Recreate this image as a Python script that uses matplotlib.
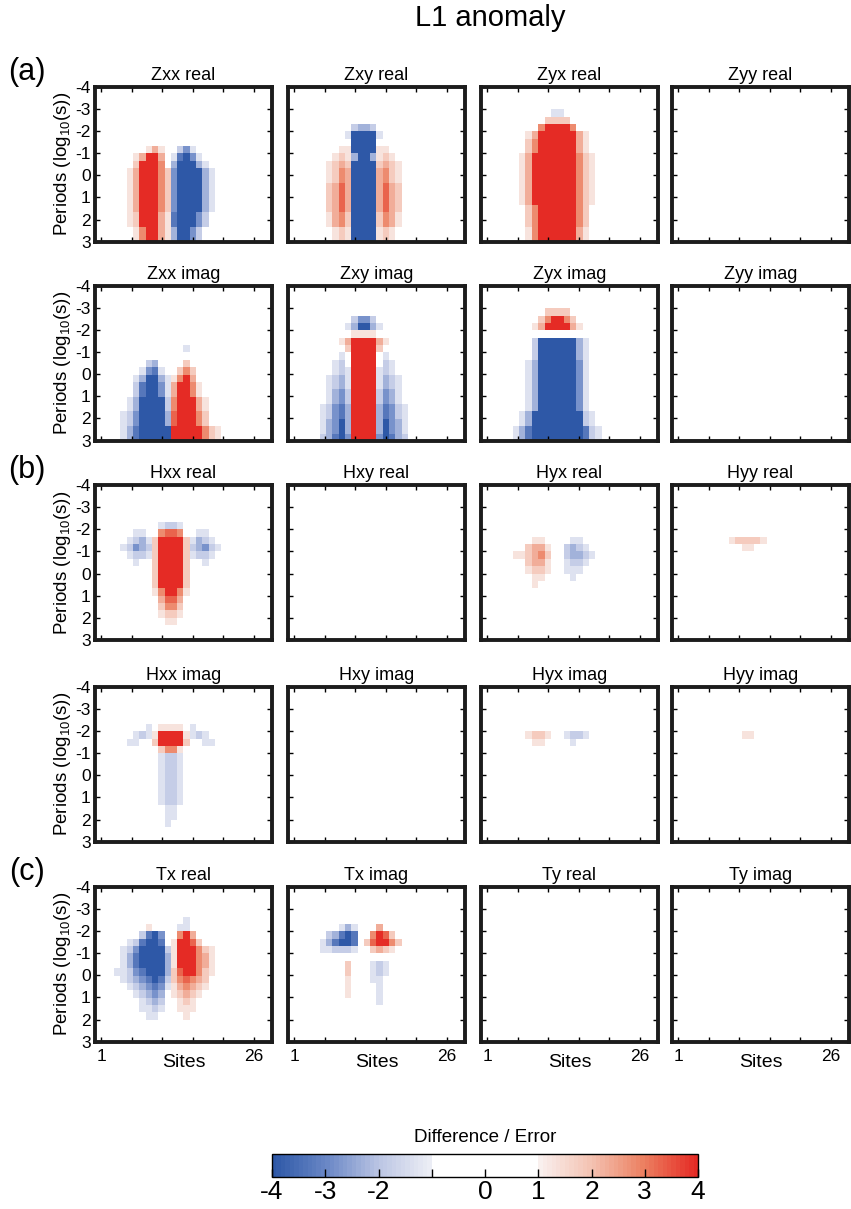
import numpy as np
import matplotlib
matplotlib.use('Agg')
import matplotlib.pyplot as plt
from matplotlib.colors import LinearSegmentedColormap, Normalize

plt.rcParams['font.family'] = ['Liberation Sans', 'DejaVu Sans']
plt.rcParams['axes.unicode_minus'] = False
plt.rcParams['mathtext.default'] = 'regular'

W, H = 851, 1209

# cell code -> difference / error
LEVELS = {'.': 0.0,
          '1': 1.3, '2': 1.8, '3': 2.3, '4': 2.8, '5': 3.3, '6': 4.0,
          'a': -1.3, 'b': -1.8, 'c': -2.3, 'd': -2.8, 'e': -3.3, 'f': -4.0}

N_ROWS = 21          # period bins, 1/3 decade each
N_COLS = 28          # site bins
SITE_RANGE = (0.0, 29.0)
PERIOD_RANGE = (-4, 3)
PERIOD_TICKS = [-4, -3, -2, -1, 0, 1, 2, 3]
SITE_TICKS = [1, 6, 11, 16, 21, 26]
SITE_LABELS = ['1', '', '', '', '', '26']

# (first row, last row, first column, cell codes)
ZXX_REAL = [
    (8, 8, 8, "131"),
    (9, 9, 6, "13663"),
    (10, 10, 6, "26664"),
    (11, 16, 5, "1366642"),
    (17, 18, 5, "1266631"),
    (19, 20, 6, "146631"),
    (8, 8, 13, "bda"),
    (9, 9, 12, "aefda"),
    (10, 10, 12, "cfffca"),
    (11, 16, 12, "dffffca"),
    (17, 18, 12, "efffdb"),
    (19, 20, 12, "cffdb"),
]
ZXY_REAL = [
    (5, 5, 10, "bccb"),
    (6, 6, 9, "affffa"),
    (7, 8, 10, "ffff"),
    (9, 9, 10, "cffc"),
    (10, 20, 10, "ffff"),
    (8, 8, 8, "11"), (8, 8, 14, "11"),
    (9, 9, 7, "121"), (9, 9, 14, "121"),
    (10, 10, 6, "1232"), (10, 10, 14, "2321"),
    (11, 12, 6, "1243"), (11, 12, 14, "3421"),
    (13, 16, 6, "2353"), (13, 16, 14, "3532"),
    (17, 18, 6, "1342"), (17, 18, 14, "2431"),
    (19, 20, 7, "121"), (19, 20, 14, "121"),
]
ZYX_REAL = [
    (3, 3, 11, "aa"),
    (4, 4, 10, "2222"),
    (5, 5, 9, "466664"),
    (6, 6, 7, "1366666631"),
    (7, 8, 7, "2466666631"),
    (9, 15, 6, "136666666421"),
    (16, 18, 7, "2466666642"),
    (19, 20, 7, "1466666631"),
]
ZXX_IMAG = [
    (10, 10, 8, "bc"),
    (11, 11, 7, "adea"),
    (12, 12, 6, "acffca"),
    (13, 14, 6, "beffda"),
    (15, 16, 5, "acffffb"),
    (17, 18, 4, "abdffffc"),
    (19, 20, 4, "acefffff"),
    (8, 8, 14, "a"),
    (10, 10, 14, "2"),
    (11, 11, 13, "242"),
    (12, 12, 12, "1463"),
    (13, 14, 12, "36641"),
    (15, 16, 12, "466631"),
    (17, 18, 12, "566642"),
    (19, 20, 12, "66666421"),
]
ZXY_IMAG = [
    (4, 4, 10, "bddb"),
    (5, 5, 9, "acffca"),
    (6, 6, 10, "1111"),
    (7, 7, 8, "13666631"),
    (8, 8, 9, "266662"),
    (9, 20, 10, "6666"),
    (9, 9, 8, "a"), (9, 9, 15, "a"),
    (10, 10, 7, "ab"), (10, 10, 15, "ba"),
    (11, 11, 7, "aba"), (11, 11, 14, "aba"),
    (12, 13, 6, "abca"), (12, 13, 14, "acba"),
    (14, 15, 6, "acdb"), (14, 15, 14, "bdca"),
    (16, 17, 5, "abdec"), (16, 17, 14, "cedba"),
    (18, 19, 5, "acdfc"), (18, 19, 14, "cfdca"),
    (20, 20, 5, "bcefd"), (20, 20, 14, "dfecb"),
]
ZYX_IMAG = [
    (3, 3, 10, "2222"),
    (4, 4, 9, "246642"),
    (5, 5, 8, "13666631"),
    (7, 9, 8, "bffffffca"),
    (10, 16, 7, "acffffffda"),
    (17, 18, 6, "acffffffffba"),
    (19, 20, 5, "aceffffffffeba"),
]
HXX_REAL = [
    (5, 5, 10, "abba"),
    (6, 6, 6, "aa"), (6, 6, 10, "4554"), (6, 6, 16, "aa"),
    (7, 7, 5, "abca"), (7, 7, 15, "acba"),
    (8, 8, 4, "abdcb"), (8, 8, 15, "bcdba"),
    (9, 9, 5, "abba"), (9, 9, 15, "abba"),
    (10, 10, 6, "a"), (10, 10, 17, "a"),
    (7, 13, 9, "266662"),
    (14, 14, 9, "146641"),
    (15, 15, 10, "3553"),
    (16, 16, 10, "2442"),
    (17, 17, 10, "1221"),
    (18, 18, 11, "11"),
]
HYX_REAL = [
    (7, 7, 8, "11"),
    (8, 8, 7, "2331"),
    (9, 9, 5, "112342"),
    (10, 10, 7, "2331"),
    (11, 11, 7, "1221"),
    (12, 12, 8, "11"),
    (13, 13, 8, "1"),
    (7, 7, 14, "aa"),
    (8, 8, 13, "bcba"),
    (9, 9, 13, "bccba"),
    (10, 10, 13, "abba"),
    (11, 11, 13, "aaa"),
    (12, 12, 14, "a"),
]
HYY_REAL = [(7, 7, 9, "122221"), (8, 8, 11, "11")]
HXX_IMAG = [
    (5, 5, 8, "a"), (5, 5, 10, "1111"), (5, 5, 15, "a"),
    (6, 6, 6, "aba"), (6, 6, 9, "166661"), (6, 6, 15, "aba"),
    (7, 7, 5, "aa"), (7, 7, 9, "266662"), (7, 7, 17, "aa"),
    (8, 8, 10, "2441"),
    (9, 13, 10, "abba"),
    (14, 15, 10, "abba"),
    (16, 17, 11, "aa"),
    (18, 18, 11, "a"),
]
HYX_IMAG = [(6, 6, 7, "1221"), (7, 7, 8, "11"), (6, 6, 13, "abba"), (7, 7, 14, "a")]
HYY_IMAG = [(6, 6, 11, "11")]
TX_REAL = [
    (4, 4, 14, "a"),
    (5, 5, 8, "1"), (5, 5, 13, "aa"),
    (6, 6, 7, "befd"),
    (7, 7, 5, "abeffe"),
    (8, 8, 4, "abdffffb"),
    (9, 10, 4, "aceffffc"),
    (11, 11, 3, "aabdefffc"),
    (12, 12, 4, "abcdefeb"),
    (13, 13, 5, "abcdeda"),
    (14, 14, 6, "abcdc"),
    (15, 15, 7, "abcb"),
    (16, 16, 7, "aaba"),
    (17, 17, 8, "aa"),
    (6, 6, 13, "463"),
    (7, 7, 12, "16652"),
    (8, 8, 12, "1666421"),
    (9, 10, 12, "1666431"),
    (11, 11, 12, "2566421"),
    (12, 12, 12, "245432"),
    (13, 13, 12, "134321"),
    (14, 14, 12, "12321"),
    (15, 15, 13, "121"),
    (16, 16, 13, "111"),
    (17, 17, 14, "1"),
]
TX_IMAG = [
    (5, 5, 8, "aca"),
    (6, 6, 6, "bcefe"),
    (7, 7, 5, "aceffe"),
    (8, 8, 5, "aabbba"),
    (5, 5, 14, "3"),
    (6, 6, 13, "4652"),
    (7, 7, 12, "256642"),
    (8, 8, 13, "2321"),
    (10, 11, 9, "2"),
    (12, 14, 9, "1"),
    (10, 11, 13, "aba"),
    (12, 12, 13, "aa"),
    (13, 15, 14, "a"),
]

PANEL_TITLES = [
    ["Zxx real", "Zxy real", "Zyx real", "Zyy real"],
    ["Zxx imag", "Zxy imag", "Zyx imag", "Zyy imag"],
    ["Hxx real", "Hxy real", "Hyx real", "Hyy real"],
    ["Hxx imag", "Hxy imag", "Hyx imag", "Hyy imag"],
    ["Tx real", "Tx imag", "Ty real", "Ty imag"],
]
PANEL_DATA = [
    [ZXX_REAL, ZXY_REAL, ZYX_REAL, []],
    [ZXX_IMAG, ZXY_IMAG, ZYX_IMAG, []],
    [HXX_REAL, [], HYX_REAL, HYY_REAL],
    [HXX_IMAG, [], HYX_IMAG, HYY_IMAG],
    [TX_REAL, TX_IMAG, [], []],
]
ROW_LABELS = {0: "(a)", 2: "(b)", 4: "(c)"}


def build_grid(segments):
    grid = np.zeros((N_ROWS, N_COLS))
    for r0, r1, c0, codes in segments:
        for r in range(r0, r1 + 1):
            for k, ch in enumerate(codes):
                grid[r, c0 + k] = LEVELS[ch]
    return grid


# blue / white / red, white between -1 and 1
cmap = LinearSegmentedColormap.from_list('differr', [
    (0.0, '#2e58a7'), (0.125, '#6a87c6'), (0.25, '#bcc6e4'), (0.37, '#eceef5'),
    (0.375, '#ffffff'), (0.625, '#ffffff'), (0.632, '#f9efed'),
    (0.75, '#f4c3b3'), (0.875, '#ec8061'), (1.0, '#e52b25')], N=96)
norm = Normalize(vmin=-4, vmax=4)

fig = plt.figure(figsize=(W / 100, H / 100), dpi=100)

col_left = [95, 288, 481, 672]
row_top = [86.7, 285.5, 485, 686.7, 886.7]
ax_w, ax_h = 177, 155

im = None
for i, top in enumerate(row_top):
    for j, left in enumerate(col_left):
        ax = fig.add_axes([left / W, 1 - (top + ax_h) / H, ax_w / W, ax_h / H])
        grid = build_grid(PANEL_DATA[i][j])
        im = ax.imshow(grid, cmap=cmap, norm=norm, aspect='auto',
                       interpolation='nearest',
                       extent=(SITE_RANGE[0], SITE_RANGE[1],
                               PERIOD_RANGE[1], PERIOD_RANGE[0]))
        ax.set_xlim(*SITE_RANGE)
        ax.set_ylim(PERIOD_RANGE[1], PERIOD_RANGE[0])
        ax.set_yticks(PERIOD_TICKS)
        ax.set_xticks(SITE_TICKS)
        ax.tick_params(direction='in', top=True, right=True, length=3.5,
                       width=1.0, labelsize=12.5, pad=3)
        for s in ax.spines.values():
            s.set_linewidth(2.8)
            s.set_color('#1c1c1c')
        ax.set_title(PANEL_TITLES[i][j], fontsize=13, pad=5)

        if j == 0:
            ax.set_ylabel('Periods (log$_{10}$(s))', fontsize=13.5, labelpad=2)
        else:
            ax.tick_params(labelleft=False)

        if i == len(row_top) - 1:
            ax.set_xticklabels(SITE_LABELS)
            ax.tick_params(axis='x', pad=5)
            ax.text(0.5, -0.137, 'Sites', transform=ax.transAxes,
                    ha='center', va='center', fontsize=14)
        else:
            ax.tick_params(labelbottom=False)

for i, lab in ROW_LABELS.items():
    fig.text(27 / W, 1 - (row_top[i] - 15) / H, lab, fontsize=22,
             ha='center', va='center')

fig.text(490 / W, 1 - 18 / H, 'L1 anomaly', fontsize=21, ha='center', va='center')

# colour scale
cax = fig.add_axes([272 / W, 1 - 1177 / H, 426 / W, 23 / H])
cb = fig.colorbar(im, cax=cax, orientation='horizontal')
cb.set_ticks([-4, -3, -2, -1, 0, 1, 2, 3, 4])
cb.set_ticklabels(['-4', '-3', '-2', '', '0', '1', '2', '3', '4'])
cb.ax.tick_params(labelsize=19, direction='in', length=6, width=1, pad=2)
cb.outline.set_linewidth(1)
fig.text(485 / W, 1 - 1138 / H, 'Difference / Error', fontsize=13.5,
         ha='center', va='center')

fig.savefig('out.png', dpi=100)
